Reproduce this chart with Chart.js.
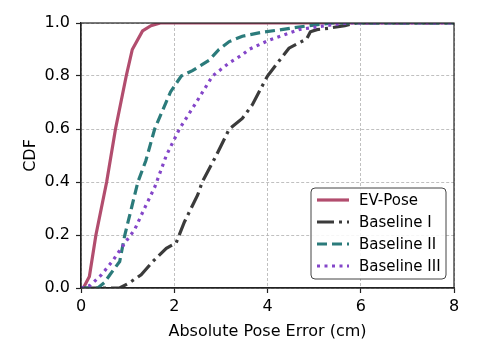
<!DOCTYPE html>
<html>
<head>
<meta charset="utf-8">
<script src="https://cdn.jsdelivr.net/npm/chart.js@4"></script>
<style>
  html, body { margin: 0; padding: 0; background: #fff; }
  #wrap { width: 478px; height: 359px; }
</style>
</head>
<body>
<div id="wrap"><canvas id="chart" width="478" height="359"></canvas></div>
<script>
// series names
const names = ['EV-Pose', 'Baseline I', 'Baseline II', 'Baseline III'];

// error (cm) / CDF pairs
const evX = [0, 0.05, 0.18, 0.32, 0.55, 0.74, 0.97, 1.1, 1.32, 1.5, 1.7, 8];
const evY = [0, 0, 0.043, 0.2, 0.4, 0.6, 0.8, 0.9, 0.97, 0.99, 1.0, 1.0];

const b1X = [0, 0.83, 1.04, 1.29, 1.54, 1.83, 2.04, 2.22, 2.5, 2.6, 2.9, 3.18, 3.46, 3.67, 4.0, 4.46, 4.84, 4.92, 5.06, 5.3, 5.66, 5.9, 8];
const b1Y = [0, 0, 0.02, 0.05, 0.1, 0.15, 0.17, 0.25, 0.35, 0.4, 0.5, 0.6, 0.64, 0.69, 0.8, 0.905, 0.94, 0.967, 0.975, 0.98, 0.99, 1, 1];

const b2X = [0, 0.36, 0.5, 0.62, 0.83, 0.94, 1.08, 1.22, 1.39, 1.58, 1.75, 1.92, 2.15, 2.39, 2.75, 2.96, 3.18, 3.46, 3.88, 4.3, 4.88, 5.4, 8];
const b2Y = [0, 0, 0.02, 0.05, 0.1, 0.2, 0.3, 0.4, 0.48, 0.6, 0.67, 0.74, 0.8, 0.82, 0.86, 0.9, 0.93, 0.95, 0.965, 0.975, 0.99, 1, 1];

const b3X = [0, 0.2, 0.44, 0.69, 0.94, 1.15, 1.36, 1.58, 1.83, 2.11, 2.47, 2.82, 3.18, 3.46, 3.6, 4.03, 4.67, 5.24, 5.7, 8];
const b3Y = [0, 0.01, 0.05, 0.105, 0.17, 0.22, 0.3, 0.38, 0.5, 0.6, 0.7, 0.8, 0.85, 0.88, 0.9, 0.935, 0.975, 0.99, 1, 1];

const xTicks = [0, 2, 4, 6, 8];
const yTicks = [0, 0.2, 0.4, 0.6, 0.8, 1.0];

const colors = ['#b24d6e', '#3b3b3b', '#2b7b7b', '#8446c9'];
const dashes = [[], [17, 5, 3, 5], [10, 5], [3, 4.5]];

const pts = (xs, ys) => xs.map((x, i) => ({x: x, y: ys[i]}));
const series = [pts(evX, evY), pts(b1X, b1Y), pts(b2X, b2Y), pts(b3X, b3Y)];

const FONT = 'DejaVu Sans';

// black frame round the plot
const frame = {
  id: 'frame',
  afterDatasetsDraw(chart) {
    const {ctx, chartArea: a} = chart;
    ctx.save();
    ctx.strokeStyle = '#222';
    ctx.lineWidth = 1.2;
    ctx.strokeRect(a.left, a.top, a.right - a.left, a.bottom - a.top);
    ctx.restore();
  }
};

// legend box in the lower right corner of the plot
const boxLegend = {
  id: 'boxLegend',
  afterDraw(chart) {
    const {ctx, chartArea: a} = chart;
    const w = 135, h = 91;
    const x0 = a.right - 8 - w, y0 = a.bottom - 9 - h;
    ctx.save();
    ctx.beginPath();
    ctx.roundRect(x0, y0, w, h, 4);
    ctx.fillStyle = 'rgba(255,255,255,0.85)';
    ctx.fill();
    ctx.strokeStyle = '#444';
    ctx.lineWidth = 1;
    ctx.stroke();
    ctx.font = '15px "' + FONT + '"';
    ctx.textBaseline = 'middle';
    chart.data.datasets.forEach((ds, i) => {
      const cy = y0 + 12 + i * 22;
      ctx.beginPath();
      ctx.setLineDash(ds.borderDash);
      ctx.strokeStyle = ds.borderColor;
      ctx.lineWidth = ds.borderWidth;
      ctx.moveTo(x0 + 6, cy);
      ctx.lineTo(x0 + 38, cy);
      ctx.stroke();
      ctx.setLineDash([]);
      ctx.fillStyle = '#000';
      ctx.fillText(ds.label, x0 + 48, cy + 1);
    });
    ctx.restore();
  }
};

new Chart(document.getElementById('chart'), {
  type: 'scatter',
  data: {
    datasets: names.map((n, i) => ({
      label: n,
      data: series[i],
      showLine: true,
      borderColor: colors[i],
      backgroundColor: colors[i],
      borderWidth: 3.2,
      borderDash: dashes[i],
      pointRadius: 0,
      tension: 0,
      order: 4 - i
    }))
  },
  options: {
    responsive: false,
    animation: false,
    layout: { padding: { top: 23, right: 24, left: 17, bottom: 14 } },
    plugins: { legend: { display: false }, tooltip: { enabled: false } },
    scales: {
      x: {
        type: 'linear', min: 0, max: 8,
        afterBuildTicks: s => { s.ticks = xTicks.map(v => ({value: v})); },
        afterFit: s => { s.height = 57; },
        ticks: { color: '#000', font: { family: FONT, size: 16 }, padding: 4 },
        grid: { color: '#b0b0b0', lineWidth: 0.8, tickColor: '#222', tickLength: 5, tickWidth: 1.2, tickBorderDash: [] },
        border: { color: '#222', width: 1.2, dash: [3, 2] },
        title: { display: true, text: 'Absolute Pose Error (cm)', color: '#000', font: { family: FONT, size: 16 }, padding: { top: 4 } }
      },
      y: {
        min: 0, max: 1,
        afterBuildTicks: s => { s.ticks = yTicks.map(v => ({value: v})); },
        afterFit: s => { s.width = 64; },
        ticks: { color: '#000', font: { family: FONT, size: 16 }, padding: 6, callback: v => v.toFixed(1) },
        grid: { color: '#b0b0b0', lineWidth: 0.8, tickColor: '#222', tickLength: 5, tickWidth: 1.2, tickBorderDash: [] },
        border: { color: '#222', width: 1.2, dash: [3, 2] },
        title: { display: true, text: 'CDF', color: '#000', font: { family: FONT, size: 16 }, padding: { bottom: 4 } }
      }
    }
  },
  plugins: [frame, boxLegend]
});
</script>
</body>
</html>
